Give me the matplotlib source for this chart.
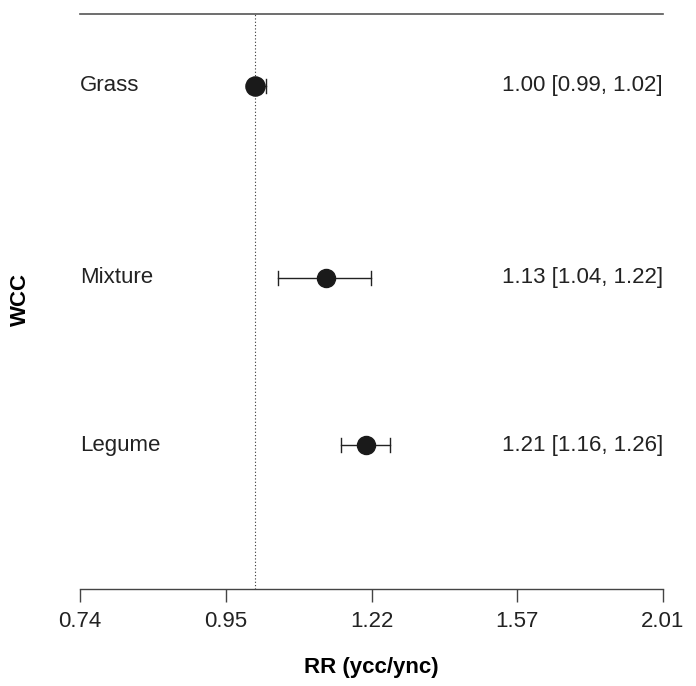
import numpy as np
import matplotlib
matplotlib.use("Agg")
import matplotlib.pyplot as plt

plt.rcParams['font.family'] = ['Liberation Sans', 'DejaVu Sans']

# water cover crop types, risk ratios with 95% CI
labels = ['Grass', 'Mixture', 'Legume']
rr = [1.00, 1.13, 1.21]
ci_lo = [0.99, 1.04, 1.16]
ci_hi = [1.02, 1.22, 1.26]
marker_pt = [13.8, 13.0, 13.0]

tick_vals = [0.74, 0.95, 1.22, 1.57, 2.01]
tick_logs = [-0.3, -0.05, 0.2, 0.45, 0.7]

# vertical placement of the rows (axes fraction)
row_pos = [0.875, 0.541, 0.250]

fig = plt.figure(figsize=(6.96, 6.86), dpi=100)
ax = fig.add_axes([80 / 696, 1 - 589 / 686, 583 / 696, 575 / 686])
ax.set_xlim(np.log(0.7408), np.log(2.0138))
ax.set_ylim(0, 1)

for sp in ['left', 'right']:
    ax.spines[sp].set_visible(False)
ax.spines['top'].set_color('#555555')
ax.spines['bottom'].set_color('#444444')
ax.spines['top'].set_linewidth(1.2)
ax.spines['bottom'].set_linewidth(1.0)

ax.set_yticks([])
ax.set_xticks(tick_logs)
ax.set_xticklabels([f'{v:.2f}' for v in tick_vals], fontsize=16, color='#222222')
ax.tick_params(axis='x', length=9, width=1.0, color='#444444', pad=7)

ax.axvline(0, color='#333333', lw=0.8, ls=(0, (1, 2)))

for y, lab, m, lo, hi, ms in zip(row_pos, labels, rr, ci_lo, ci_hi, marker_pt):
    ax.plot([np.log(lo), np.log(hi)], [y, y], color='#222222', lw=1.0)
    for e in (lo, hi):
        ax.plot([np.log(e), np.log(e)], [y - 0.012, y + 0.012], color='#222222', lw=1.0)
    ax.plot(np.log(m), y, 'o', color='#1a1a1a', ms=ms)
    ax.text(0.0, y, lab, transform=ax.get_yaxis_transform(), ha='left', va='center',
            fontsize=16, color='#222222')
    ax.text(1.0, y, f'{m:.2f} [{lo:.2f}, {hi:.2f}]', transform=ax.get_yaxis_transform(),
            ha='right', va='center', fontsize=16, color='#222222')

ax.set_xlabel('RR (ycc/ync)', fontsize=16, fontweight='bold', labelpad=18)
fig.text(20 / 696, 1 - 300 / 686, 'WCC', rotation=90, ha='center', va='center',
         fontsize=16, fontweight='bold')

fig.savefig('out.png', dpi=100)
